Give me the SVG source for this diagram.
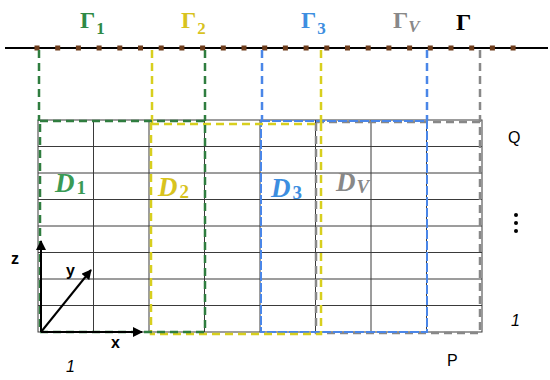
<svg xmlns="http://www.w3.org/2000/svg" width="550" height="380" viewBox="0 0 550 380">
<style>
.grid{stroke:#3a3a3a;stroke-width:1;fill:none}
.g{stroke:#2f7d3f;stroke-width:2.5;stroke-dasharray:8 5;fill:none}
.yl{stroke:#d8cf1e;stroke-width:2.5;stroke-dasharray:8 5;fill:none}
.bl{stroke:#4a86e8;stroke-width:2;stroke-dasharray:9 2;fill:none}
.bl2{stroke:#4a86e8;stroke-width:2.5;stroke-dasharray:8 5;fill:none}
.gr{stroke:#888;stroke-width:2.5;stroke-dasharray:8 5;fill:none}
.gam{font-family:"Liberation Serif",serif;font-weight:bold;font-size:24px}
.sub{font-family:"Liberation Serif",serif;font-weight:bold;font-size:17px}
.dl{font-family:"Liberation Serif",serif;font-weight:bold;font-style:italic;font-size:27px}
.dsub{font-family:"Liberation Serif",serif;font-weight:bold;font-size:19px}
.lab{font-family:"Liberation Sans",Arial,sans-serif;font-size:16px;fill:#000}
.ax{font-family:"Liberation Sans",Arial,sans-serif;font-weight:bold;font-size:16px;fill:#000}
.dot{fill:#6e3d1c}
</style>
<defs>
<marker id="arr" viewBox="0 0 10 10" refX="9" refY="5" markerWidth="5" markerHeight="5" orient="auto">
<path d="M0,0 L10,5 L0,10 z" fill="#000"/>
</marker>
</defs>
<g id="baseline">
<line x1="5" y1="48" x2="548" y2="48" stroke="#000" stroke-width="2"/>
<g class="dot">
<rect x="34.5" y="45.5" width="5" height="5"/><rect x="55.2" y="45.5" width="5" height="5"/><rect x="75.9" y="45.5" width="5" height="5"/><rect x="96.6" y="45.5" width="5" height="5"/><rect x="117.3" y="45.5" width="5" height="5"/><rect x="138" y="45.5" width="5" height="5"/><rect x="158.7" y="45.5" width="5" height="5"/><rect x="179.4" y="45.5" width="5" height="5"/><rect x="200.1" y="45.5" width="5" height="5"/><rect x="220.8" y="45.5" width="5" height="5"/><rect x="241.5" y="45.5" width="5" height="5"/><rect x="262.2" y="45.5" width="5" height="5"/><rect x="282.9" y="45.5" width="5" height="5"/><rect x="303.6" y="45.5" width="5" height="5"/><rect x="324.3" y="45.5" width="5" height="5"/><rect x="345" y="45.5" width="5" height="5"/><rect x="365.7" y="45.5" width="5" height="5"/><rect x="386.4" y="45.5" width="5" height="5"/><rect x="407.1" y="45.5" width="5" height="5"/><rect x="427.8" y="45.5" width="5" height="5"/><rect x="448.5" y="45.5" width="5" height="5"/><rect x="469.2" y="45.5" width="5" height="5"/><rect x="489.9" y="45.5" width="5" height="5"/><rect x="510.6" y="45.5" width="5" height="5"/>
</g>
</g>
<g id="grid" class="grid">
<rect x="38" y="120" width="444" height="212"/>
<path d="M93.5,120V332M149,120V332M204.5,120V332M260,120V332M315.5,120V332M371,120V332M426.5,120V332"/>
<path d="M38,146.5H482M38,173H482M38,199.5H482M38,226H482M38,252.5H482M38,279H482M38,305.5H482"/>
</g>
<g id="connectors">
<path class="gr" d="M480,50V122"/>
<rect class="gr" x="316" y="122" width="164" height="211"/>
<path class="bl2" d="M262,50V121M427,50V121"/>
<rect class="bl" x="261" y="121" width="166" height="211"/>
<path class="yl" d="M152,50V124M321,50V124"/>
<rect class="yl" x="151" y="124" width="170" height="210"/>
<path class="g" d="M39,50V121M205,50V121"/>
<rect class="g" x="40" y="121" width="165" height="211"/>
</g>
<g id="gamma-labels">
<text class="gam" x="80" y="28" fill="#2f8a45">Γ<tspan class="sub" dx="1" dy="6">1</tspan></text>
<text class="gam" x="181" y="28" fill="#d8c31e">Γ<tspan class="sub" dx="1" dy="6">2</tspan></text>
<text class="gam" x="301" y="28" fill="#3d8ee0">Γ<tspan class="sub" dx="1" dy="6">3</tspan></text>
<text class="gam" x="393" y="28" fill="#888">Γ<tspan class="sub" dy="4" font-style="italic">V</tspan></text>
<text class="gam" x="456" y="30" fill="#000" font-size="27">Γ</text>
</g>
<g id="domain-labels">
<text class="dl" x="55" y="192" fill="#3a9a55">D<tspan class="dsub" font-style="normal" dx="2" dy="2">1</tspan></text>
<text class="dl" x="158" y="196" fill="#d8c31e">D<tspan class="dsub" font-style="normal" dx="2" dy="2">2</tspan></text>
<text class="dl" x="271" y="197" fill="#3d8ee0">D<tspan class="dsub" font-style="normal" dx="2" dy="2">3</tspan></text>
<text class="dl" x="336" y="191" fill="#888">D<tspan class="dsub" dx="1" dy="2">V</tspan></text>
</g>
<g id="axes">
<line x1="41" y1="332" x2="41" y2="241" stroke="#000" stroke-width="2" marker-end="url(#arr)"/>
<line x1="41" y1="332" x2="142" y2="332" stroke="#000" stroke-width="2" marker-end="url(#arr)"/>
<line x1="41" y1="332" x2="91" y2="270" stroke="#000" stroke-width="2" marker-end="url(#arr)"/>
<text class="ax" x="11" y="264">z</text>
<text class="ax" x="66" y="276">y</text>
<text class="ax" x="111" y="348">x</text>
</g>
<g id="side-labels">
<text class="lab" x="508" y="143" font-size="17">Q</text>
<circle cx="516" cy="215" r="2" fill="#000"/>
<circle cx="516" cy="223" r="2" fill="#000"/>
<circle cx="516" cy="231" r="2" fill="#000"/>
<text class="lab" x="511" y="326" font-style="italic" font-size="15">1</text>
<text class="lab" x="447" y="366">P</text>
<text class="lab" x="66" y="372" font-style="italic" font-size="15">1</text>
</g>
</svg>
